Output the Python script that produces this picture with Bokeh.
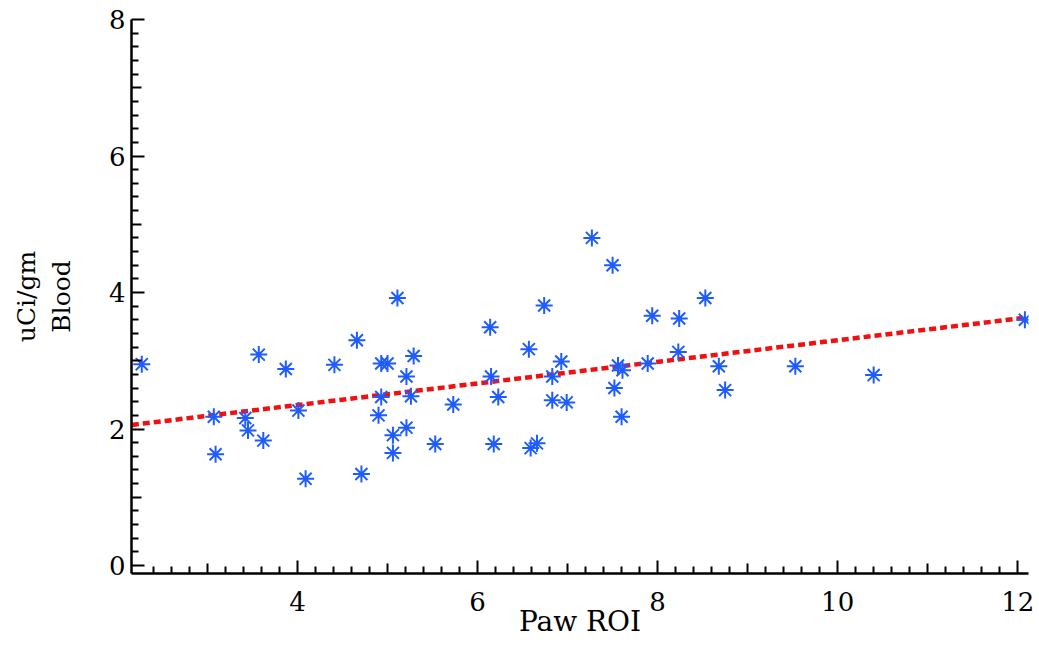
import numpy as np
from bokeh.plotting import figure
from bokeh.models import FixedTicker, LinearAxis, Range1d
from bokeh.embed import file_html
from bokeh.resources import INLINE

# ---- data ----
paw_roi = [2.27, 3.07, 3.09, 3.42, 3.45, 3.57, 3.62, 3.87, 4.01, 4.09,
           4.41, 4.66, 4.71, 4.90, 4.93, 4.93, 5.00, 5.06, 5.06, 5.11,
           5.21, 5.21, 5.26, 5.29, 5.53, 5.73, 6.14, 6.15, 6.18, 6.23,
           6.57, 6.59, 6.66, 6.74, 6.83, 6.83, 6.93, 6.99, 7.27, 7.50,
           7.52, 7.56, 7.61, 7.60, 7.89, 7.94, 8.24, 8.23, 8.53, 8.68,
           8.75, 9.53, 10.40, 12.08]
blood = [2.95, 2.18, 1.63, 2.16, 1.98, 3.09, 1.83, 2.88, 2.27, 1.27,
         2.94, 3.30, 1.34, 2.20, 2.47, 2.96, 2.96, 1.91, 1.65, 3.92,
         2.77, 2.02, 2.48, 3.07, 1.78, 2.36, 3.49, 2.77, 1.78, 2.47,
         3.17, 1.72, 1.79, 3.81, 2.77, 2.42, 2.99, 2.39, 4.80, 4.40,
         2.60, 2.93, 2.86, 2.18, 2.96, 3.66, 3.62, 3.13, 3.92, 2.92,
         2.57, 2.92, 2.79, 3.60]
fit_x = [2.16, 12.08]
fit_y = [2.06, 3.63]

x_major = [4, 6, 8, 10, 12]
x_mid = [3, 5, 7, 9, 11]
y_major = [0, 2, 4, 6, 8]
y_mid = [1, 3, 5, 7]

X0, X1 = 2.156, 12.12
Y0, Y1 = -0.117, 8.0

FONT = "DejaVu Serif"

def minors(a, b):
    vals = np.round(np.arange(a, b + 1e-9, 0.2), 2)
    return [float(v) for v in vals if abs(v - round(v)) > 1e-6]

p = figure(width=1039, height=645,
           x_range=Range1d(X0, X1), y_range=Range1d(Y0, Y1),
           output_backend="svg", toolbar_location=None,
           min_border_left=131, min_border_right=11,
           min_border_top=19, min_border_bottom=72)
p.outline_line_color = None
p.xgrid.visible = False
p.ygrid.visible = False
p.background_fill_color = "white"
p.border_fill_color = "white"

def style_axis(ax):
    ax.axis_line_width = 2.5
    ax.axis_line_color = "black"
    ax.major_tick_in = 13
    ax.major_tick_out = 0
    ax.minor_tick_in = 7
    ax.minor_tick_out = 0
    ax.major_tick_line_width = 2
    ax.minor_tick_line_width = 2
    ax.major_tick_line_color = "black"
    ax.minor_tick_line_color = "black"
    ax.major_label_text_font = FONT
    ax.major_label_text_font_size = "26px"
    ax.major_label_text_color = "black"
    ax.axis_label_text_font = FONT
    ax.axis_label_text_font_style = "normal"
    ax.axis_label_text_color = "black"

xa = p.xaxis[0]
style_axis(xa)
xa.ticker = FixedTicker(ticks=x_major, minor_ticks=minors(2.4, 12.0))
xa.axis_label = "Paw ROI"
xa.axis_label_text_font_size = "28px"
xa.major_label_standoff = 18
xa.axis_label_standoff = -9

ya = p.yaxis[0]
style_axis(ya)
ya.ticker = FixedTicker(ticks=y_major, minor_ticks=minors(0.2, 7.8))
ya.axis_label = "uCi/gm\nBlood"
ya.axis_label_text_font_size = "25px"
ya.axis_label_text_align = "right"
ya.major_label_standoff = 6
ya.axis_label_standoff = 30

# medium-length ticks at odd integers
xmid = LinearAxis(fixed_location=Y0,
                  ticker=FixedTicker(ticks=x_mid, minor_ticks=[]),
                  axis_line_color=None, major_tick_in=10, major_tick_out=0,
                  major_tick_line_width=2, major_tick_line_color="black",
                  major_label_text_font_size="0px", major_label_text_alpha=0)
p.add_layout(xmid, "below")
ymid = LinearAxis(fixed_location=X0,
                  ticker=FixedTicker(ticks=y_mid, minor_ticks=[]),
                  axis_line_color=None, major_tick_in=10, major_tick_out=0,
                  major_tick_line_width=2, major_tick_line_color="black",
                  major_label_text_font_size="0px", major_label_text_alpha=0)
p.add_layout(ymid, "left")

p.line(fit_x, fit_y, line_color="#f01010", line_width=4.5, line_dash="7 4")
p.scatter(paw_roi, blood, marker="asterisk", size=17,
          line_color="#1f5cff", line_width=2)

open("out.html", "w").write(file_html(p, INLINE))
